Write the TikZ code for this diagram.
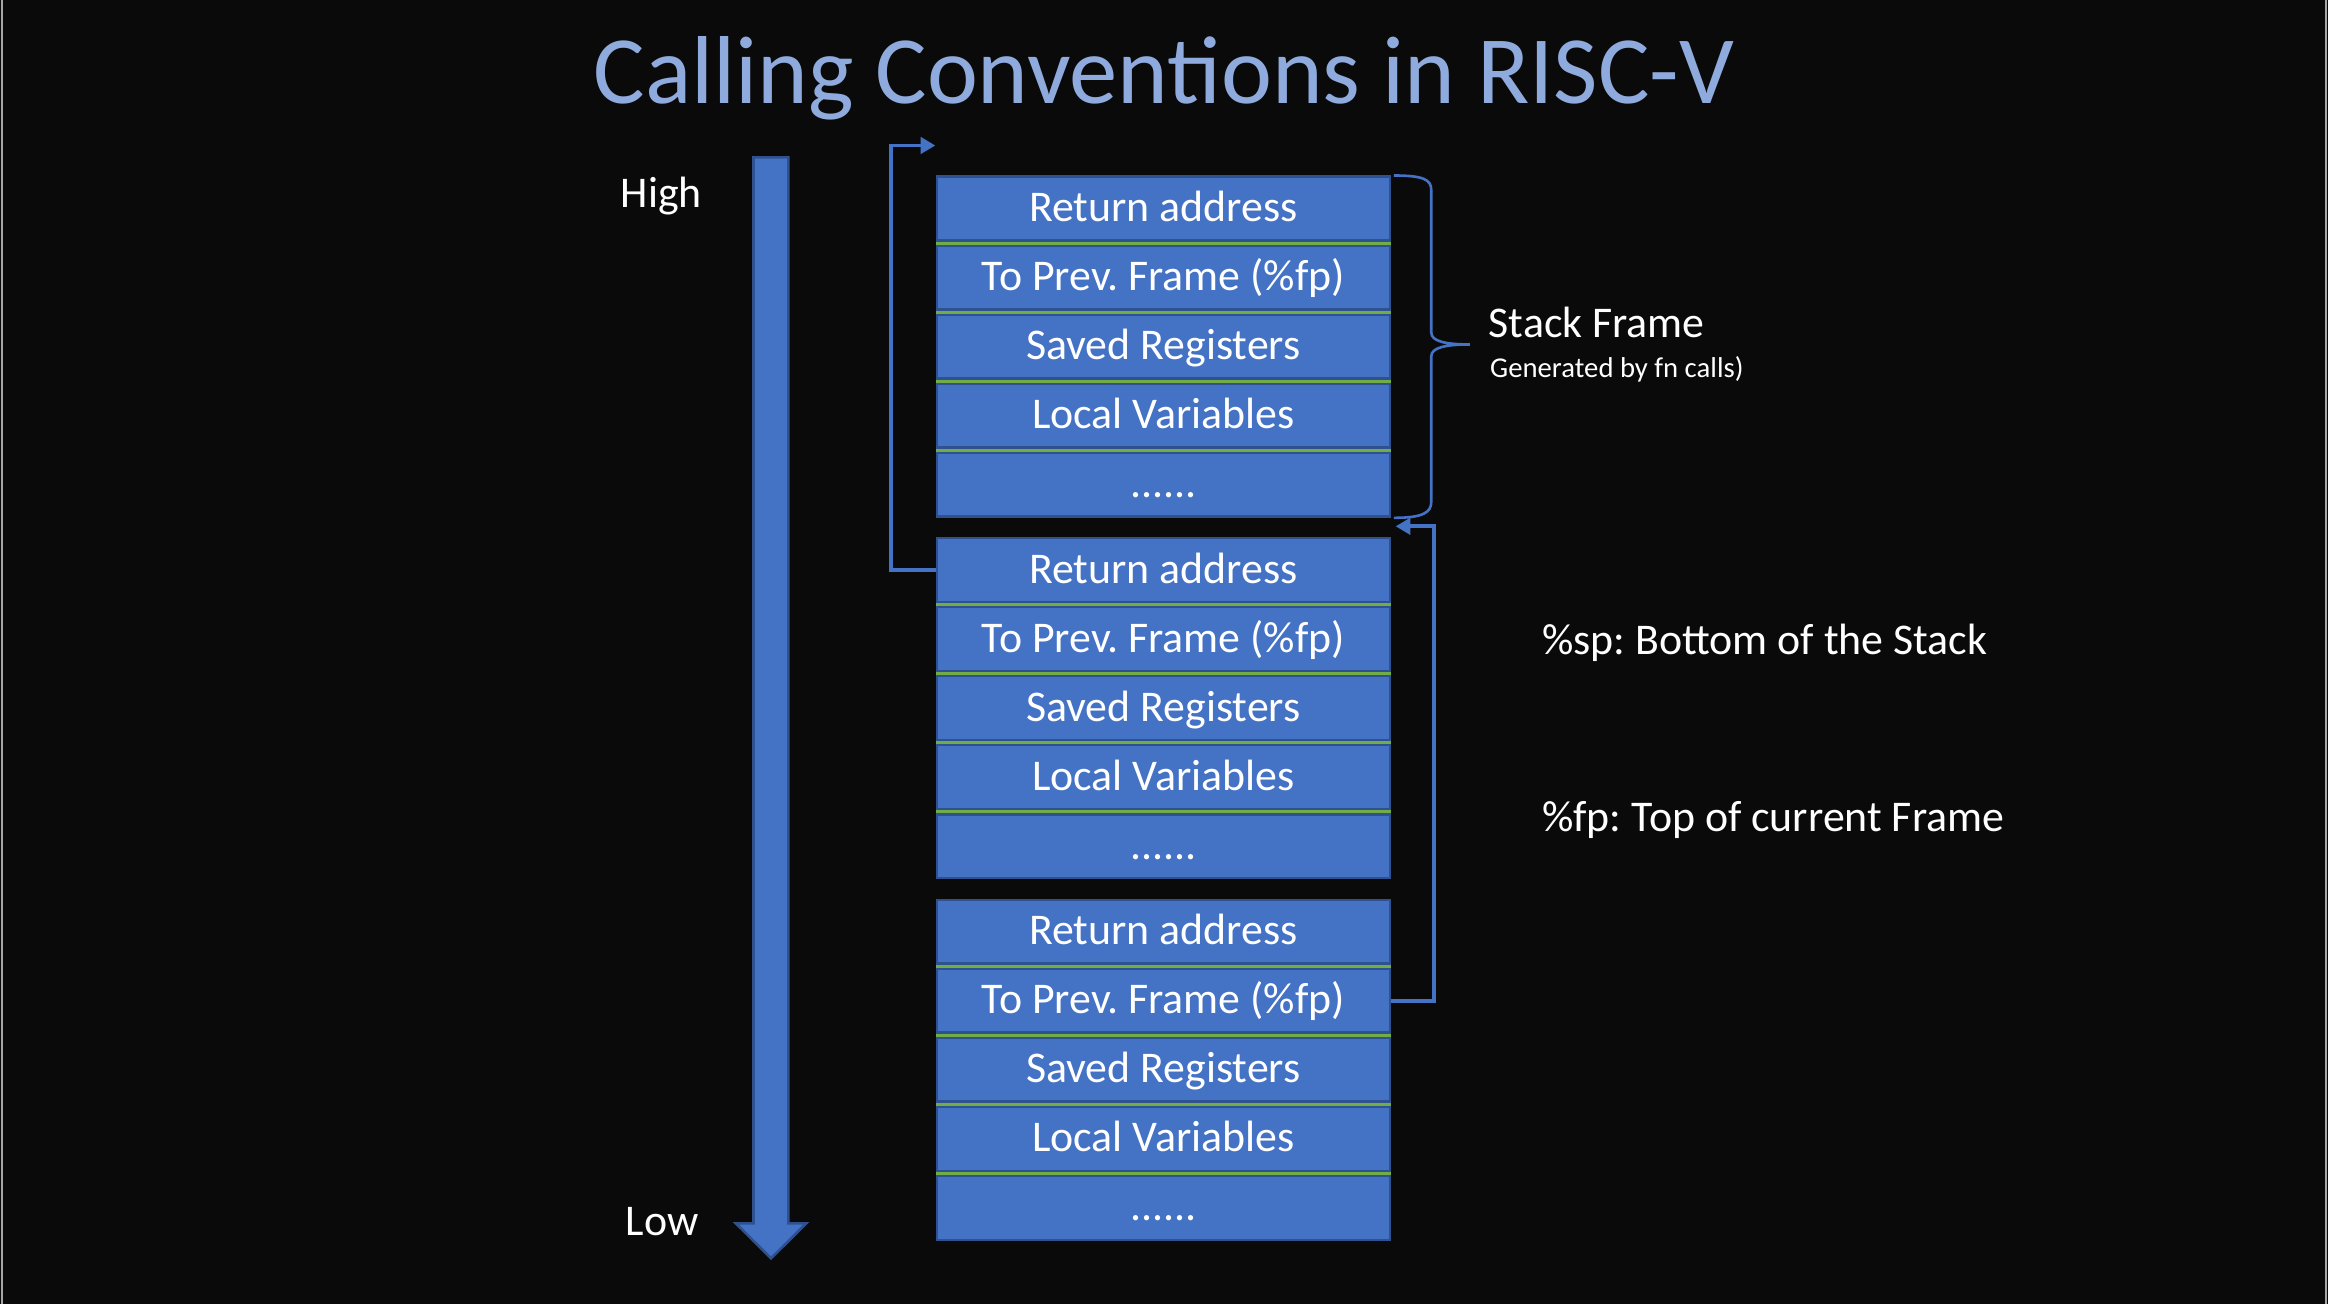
\documentclass[tikz,border=0pt]{standalone}
\usepackage{fontspec}
\setmainfont{Carlito}
\usetikzlibrary{arrows.meta}
\definecolor{boxfill}{HTML}{4472C4}
\definecolor{boxline}{HTML}{2F528F}
\definecolor{sepgreen}{HTML}{70AD47}
\definecolor{titleblue}{HTML}{8FAADC}
\newcommand{\sixdots}{......}
\frenchspacing

\begin{document}
\begin{tikzpicture}[y=-1cm,
  cell/.style={rectangle, draw=boxline, fill=boxfill, line width=0.45pt, minimum width=3.05cm, minimum height=0.43cm, inner sep=0pt, text=white, font=\fontsize{8.4}{10}\selectfont, text height=0.6em, text depth=0.1em},
  sep/.style={draw=sepgreen, line width=0.55pt},
  link/.style={draw=boxfill, line width=0.7pt, -{Triangle[length=1mm,width=1.1mm]}},
  brace/.style={draw=boxfill, line width=0.5pt},
  lbl/.style={text=white, font=\fontsize{8.4}{10}\selectfont, inner sep=0pt}]
  \fill[black!96] (0,0) rectangle (15.68,8.78);
  \fill[gray!70] (0.006,0) rectangle (0.018,8.78);
  \fill[gray!70] (15.662,0) rectangle (15.674,8.78);
  \node[anchor=base, inner sep=0pt, text=titleblue, font=\fontsize{18.5}{22}\selectfont] (title) at (7.84,0.70) {Calling Conventions in RISC-V};

  \fill[boxfill, draw=boxline, line width=0.5pt] (5.075,1.06) -- (5.31,1.06) -- (5.31,8.24) -- (5.43,8.24) -- (5.193,8.475) -- (4.957,8.24) -- (5.075,8.24) -- cycle;
  \node[lbl, anchor=base] (high) at (4.455,1.40) {High};
  \node[lbl, anchor=base] (low) at (4.46,8.32) {Low};

  \foreach \f in {1,2,3}{
    \foreach \r/\txt in {1/Return address, 2/To Prev. Frame (\%fp), 3/Saved Registers, 4/Local Variables, 5/\sixdots}
      \node[cell] (f\f-\r) at (7.835, {1.405+2.435*(\f-1)+0.465*(\r-1)}) {\txt};
    \foreach \r in {1,2,3,4}
      \draw[sep] ([yshift=-0.1mm]f\f-\r.south west) -- ([yshift=-0.1mm]f\f-\r.south east);
  }

  \coordinate (bt) at ([xshift=0.2mm]f1-1.north east);
  \coordinate (bb) at ([xshift=0.2mm]f1-5.south east);
  \draw[brace] (bt) .. controls +(0.2,0) and +(0,-0.07) .. (9.64,1.28) -- (9.64,2.24)
    .. controls +(0,0.06) and +(-0.16,0) .. (9.90,2.32)
    .. controls +(-0.16,0) and +(0,-0.06) .. (9.64,2.40) -- (9.64,3.38)
    .. controls +(0,0.07) and +(0.2,0) .. (bb);
  \node[lbl, anchor=base west] (frame) at (10.02,2.27) {Stack Frame};
  \node[lbl, anchor=base west, font=\fontsize{5.5}{7}\selectfont] (gen) at (10.03,2.54) {Generated by fn calls)};

  \coordinate (ret) at (6.30,0.98);
  \draw[link] (f2-1.west) -- ++(-0.30,0) |- (ret);
  \coordinate (fpt) at (9.40,3.545);
  \draw[link] (f3-2.east) -- ++(0.29,0) |- (fpt);

  \node[lbl, anchor=base west] (sp) at (10.38,4.41) {\%sp: Bottom of the Stack};
  \node[lbl, anchor=base west] (fp) at (10.38,5.60) {\%fp: Top of current Frame};
\end{tikzpicture}
\end{document}
